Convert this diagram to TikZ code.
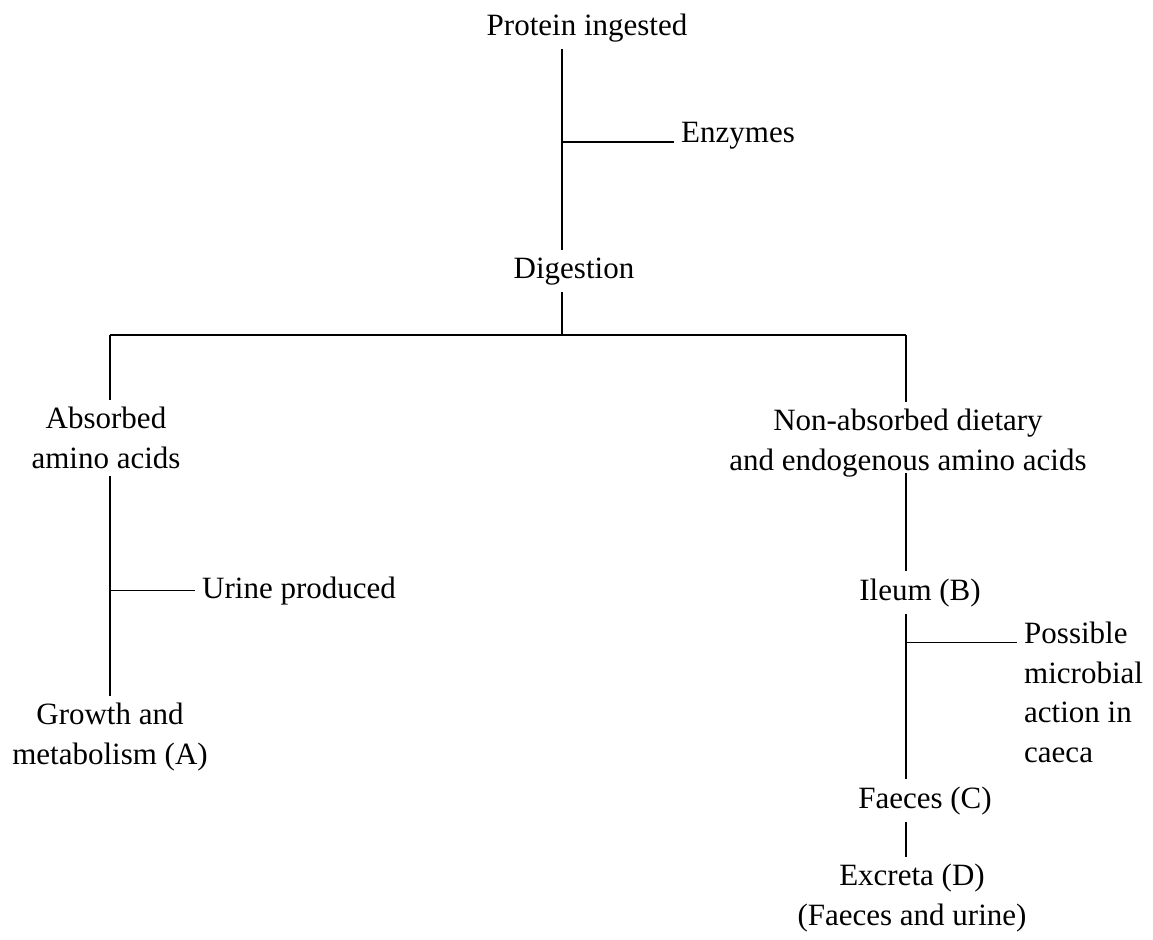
\documentclass[tikz,border=0pt]{standalone}
\usepackage{fontspec}
\setmainfont{Liberation Serif}
\usepackage{tikz}
\usetikzlibrary{positioning}
\tikzset{link/.style = {-, line width=0.6pt}}

\begin{document}
\begin{tikzpicture}[x=0.5pt,y=-0.5pt,every node/.style={inner sep=3.4pt,font=\fontsize{15.5pt}{19.75pt}\selectfont},
    stage/.style={align=center},side/.style={align=left}]
    \useasboundingbox (0,0) rectangle (1153,939);
    % axes of the tree
    \coordinate (trunk) at (562,0);
    \coordinate (split) at (0,335);
    \coordinate (lft) at (110,0);
    \coordinate (rgt) at (906,0);
    \node[anchor=base] (prot) at (587,35) {Protein ingested};
    \node[anchor=base west] (enz) at (674,142) {Enzymes};
    \node[anchor=base] (dig) at (574,278) {Digestion};
    \node[stage,anchor=base] (abs) at (106,468) {Absorbed\\amino acids};
    \node[anchor=base west] (urine) at (195,598) {Urine produced};
    \node[stage,anchor=base] (grow) at (110,764) {Growth and\\metabolism (A)};
    \node[stage,anchor=base] (non) at (908,470) {Non-absorbed dietary\\and endogenous amino acids};
    \node[anchor=base] (ileum) at (920,600) {Ileum (B)};
    \node[side,anchor=base west] (poss) at (1017,762) {Possible\\microbial\\action in\\caeca};
    \node[anchor=base] (faec) at (925,808) {Faeces (C)};
    \node[stage,anchor=base] (excr) at (912,925) {Excreta (D)\\(Faeces and urine)};
    \coordinate (mic) at ([yshift=-14pt]poss.north west);
    \path[link] (trunk |- prot.south) edge (trunk |- dig.north)
        (trunk |- enz.base west) edge (enz.base west)
        (trunk |- dig.south) edge (trunk |- split)
        (lft |- split) edge (rgt |- split)
        (lft |- split) edge (lft |- abs.north)
        (lft |- abs.south) edge (lft |- grow.north)
        (lft |- urine.west) edge (urine.west)
        (rgt |- split) edge (rgt |- non.north)
        (rgt |- non.south) edge[shorten <=-5.5pt] (rgt |- ileum.north)
        (rgt |- ileum.south) edge (rgt |- faec.north)
        (rgt |- mic) edge (mic)
        (rgt |- faec.south) edge (rgt |- excr.north);
\end{tikzpicture}
\end{document}
